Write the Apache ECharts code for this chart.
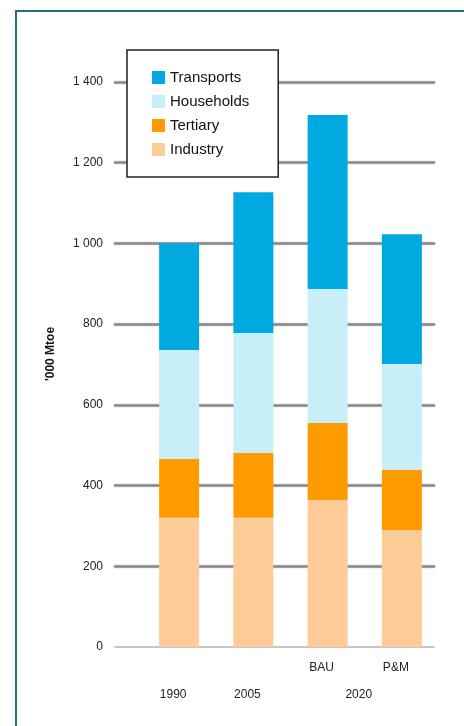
<!DOCTYPE html>
<html>
<head>
<meta charset="utf-8">
<script src="https://cdn.jsdelivr.net/npm/echarts@6/dist/echarts.min.js"></script>
<style>
html,body{margin:0;padding:0;background:#fff;}
#chart{width:464px;height:726px;}
</style>
</head>
<body>
<div id="chart"></div>
<script>
var categories = ['1990', '2005', 'BAU', 'P&M'];
var barLabels = ['', '', 'BAU', 'P&M'];
var yearLabels = ['1990', '2005', '2020'];
var yearLabelPositions = [0, 1, 2.5];
var industry = [320, 320, 364, 290];
var tertiary = [146, 161, 191, 149];
var households = [270, 297, 332, 262];
var transports = [264, 349, 431, 322];
var yTicks = [0, 200, 400, 600, 800, 1000, 1200, 1400];
var yTickLabels = ['0', '200', '400', '600', '800', '1 000', '1 200', '1 400'];
var legendOrder = ['Transports', 'Households', 'Tertiary', 'Industry'];
var yAxisTitle = "'000 Mtoe";

var FONT = 'Liberation Sans, Arial, sans-serif';
var chart = echarts.init(document.getElementById('chart'), null, {renderer: 'canvas'});

function bar(name, data, color) {
  return {
    name: name, type: 'bar', stack: 'total', data: data,
    xAxisIndex: 1, yAxisIndex: 1, barWidth: 40,
    itemStyle: {color: color}, emphasis: {disabled: true}
  };
}

var option = {
  animation: false,
  backgroundColor: '#fff',
  textStyle: {fontFamily: FONT},
  graphic: [
    {type: 'rect', shape: {x: 16, y: 11, width: 600, height: 900},
     style: {fill: 'none', stroke: '#236e7b', lineWidth: 2}, z: 100},
    {type: 'text', x: 51, y: 354, rotation: Math.PI / 2,
     style: {text: yAxisTitle, font: 'bold 12px ' + FONT, fill: '#111', align: 'center', verticalAlign: 'middle'}}
  ],
  legend: {
    data: legendOrder,
    orient: 'vertical',
    left: 127, top: 50,
    padding: [20, 29, 20, 25],
    itemGap: 9,
    itemWidth: 13, itemHeight: 13,
    icon: 'rect',
    borderColor: '#222', borderWidth: 1.5,
    backgroundColor: '#fff',
    textStyle: {fontSize: 15, color: '#111', fontFamily: FONT},
    selectedMode: false,
    z: 10
  },
  grid: [
    {left: 115, right: 30, top: 82, bottom: 79},
    {left: 142, right: 25, top: 82, bottom: 79}
  ],
  xAxis: [
    {gridIndex: 0, type: 'value', min: 0, max: 1,
     axisLine: {show: true, lineStyle: {color: '#b5b5b5', width: 1.5}},
     axisTick: {show: false}, axisLabel: {show: false}, splitLine: {show: false}},
    {gridIndex: 1, type: 'category', data: categories,
     axisLine: {show: false}, axisTick: {show: false}, splitLine: {show: false},
     axisLabel: {interval: 0, margin: 15, fontSize: 12, color: '#222', padding: [0, 12, 0, 0],
       formatter: function (v, i) { return barLabels[i]; }}},
    {gridIndex: 1, type: 'value', min: -0.5, max: 3.5, interval: 0.5, position: 'bottom',
     axisLine: {show: false}, axisTick: {show: false}, splitLine: {show: false},
     axisLabel: {margin: 42, fontSize: 12, color: '#222', padding: [0, 12, 0, 0], showMinLabel: true, showMaxLabel: true,
       formatter: function (v) { var k = yearLabelPositions.indexOf(v); return k >= 0 ? yearLabels[k] : ''; }}}
  ],
  yAxis: [
    {gridIndex: 0, type: 'value', min: 0, max: 1400, interval: 200,
     axisLine: {show: false}, axisTick: {show: false},
     axisLabel: {margin: 12, fontSize: 12, color: '#222',
       formatter: function (v) { var k = yTicks.indexOf(v); return k >= 0 ? yTickLabels[k] : ''; }},
     splitLine: {show: true, showMinLine: false,
       lineStyle: {color: '#8a8a8a', width: 2.5, cap: 'round', shadowColor: 'rgba(0,0,0,0.25)', shadowBlur: 2}}},
    {gridIndex: 1, type: 'value', min: 0, max: 1400, interval: 200, show: false, splitLine: {show: false}}
  ],
  series: [
    bar('Industry', industry, '#ffcc99'),
    bar('Tertiary', tertiary, '#ff9a00'),
    bar('Households', households, '#c8eef8'),
    bar('Transports', transports, '#00a9e0')
  ]
};
chart.setOption(option);
</script>
</body>
</html>
